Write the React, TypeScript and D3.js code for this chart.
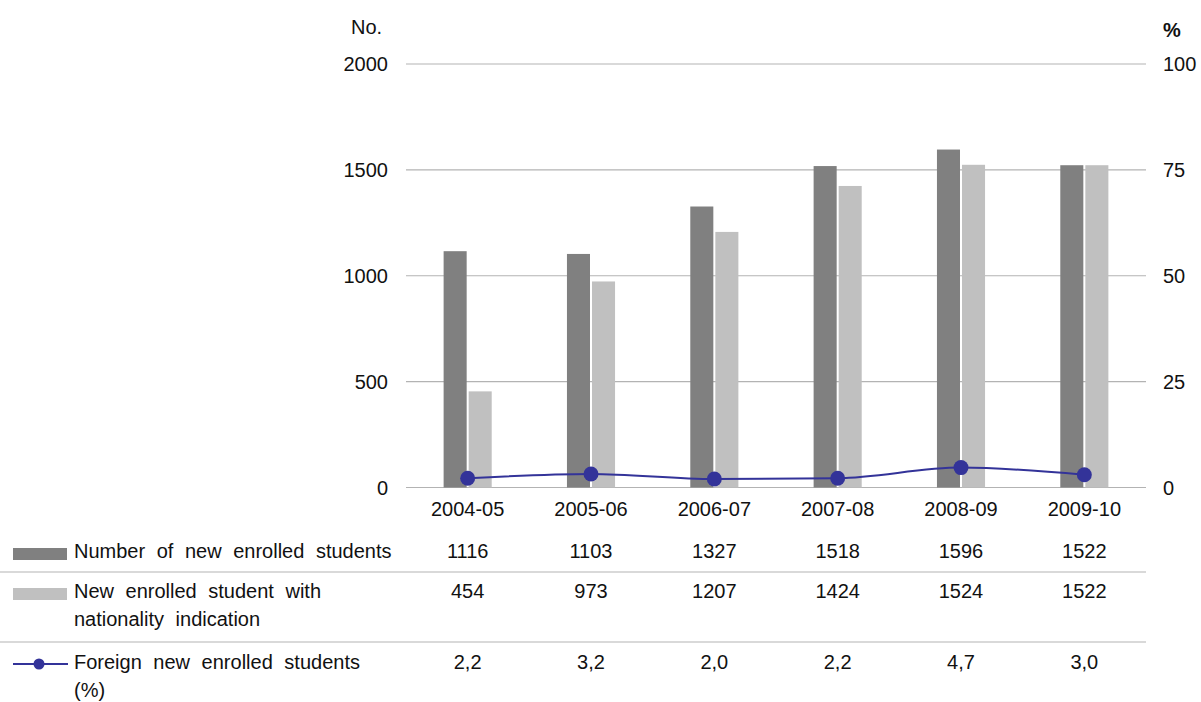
import React from "react";
import * as d3 from "d3";

const categories = ["2004-05", "2005-06", "2006-07", "2007-08", "2008-09", "2009-10"];
const enrolled = [1116, 1103, 1327, 1518, 1596, 1522];
const withNationality = [454, 973, 1207, 1424, 1524, 1522];
const foreignPct = [2.2, 3.2, 2.0, 2.2, 4.7, 3.0];
const leftTicks = [0, 500, 1000, 1500, 2000];
const rightTicks = [0, 25, 50, 75, 100];
const seriesNames = [
  ["Number of new enrolled students"],
  ["New enrolled student with", "nationality indication"],
  ["Foreign new enrolled students", "(%)"],
];
const pctLabels = foreignPct.map((v) => v.toFixed(1).replace(".", ","));

const W = 1201;
const H = 702;
const FONT = "'Liberation Sans', Arial, sans-serif";
const DARK = "#808080";
const LIGHT = "#c0c0c0";
const BLUE = "#333399";
const GRID = "#b3b3b3";

export default function App() {
  const x0 = d3.scaleBand<string>().domain(categories).range([406, 1146]).paddingInner(0.61).paddingOuter(0.305);
  const x1 = d3.scaleBand<string>().domain(["a", "b"]).range([0, x0.bandwidth()]).paddingInner(0.08);
  const yL = d3.scaleLinear().domain([0, 2000]).range([487.5, 64]);
  const yR = d3.scaleLinear().domain([0, 100]).range([487.5, 64]);
  const cx = (c: string) => (x0(c) as number) + x0.bandwidth() / 2;

  const line = d3
    .line<number>()
    .x((_, i) => cx(categories[i]))
    .y((d) => yR(d))
    .curve(d3.curveMonotoneX);

  const rowBase = [558, 598, 669];

  return (
    <div style={{ position: "absolute", left: 0, top: 0 }}>
      <svg width={W} height={H} style={{ display: "block", fontFamily: FONT }}>
        <rect width={W} height={H} fill="#fff" />
        {leftTicks.map((t) => (
          <g key={"g" + t}>
            <line x1={406} x2={1146} y1={yL(t)} y2={yL(t)} stroke={GRID} strokeWidth={1.2} />
            <text x={388} y={yL(t) + 7} textAnchor="end" fontSize={20} fill="#111">
              {t}
            </text>
          </g>
        ))}
        {rightTicks.map((t) => (
          <text key={"r" + t} x={1163} y={yR(t) + 7} fontSize={20} fill="#111">
            {t}
          </text>
        ))}
        <text x={351} y={34} fontSize={20} fill="#111">
          No.
        </text>
        <text x={1163} y={37} fontSize={20} fontWeight="bold" fill="#111">
          %
        </text>

        {categories.map((c, i) => (
          <g key={c}>
            <rect
              x={(x0(c) as number) + (x1("a") as number)}
              y={yL(enrolled[i])}
              width={x1.bandwidth()}
              height={yL(0) - yL(enrolled[i])}
              fill={DARK}
            />
            <rect
              x={(x0(c) as number) + (x1("b") as number)}
              y={yL(withNationality[i])}
              width={x1.bandwidth()}
              height={yL(0) - yL(withNationality[i])}
              fill={LIGHT}
            />
          </g>
        ))}

        <path d={line(foreignPct) as string} fill="none" stroke={BLUE} strokeWidth={2} />
        {foreignPct.map((v, i) => (
          <circle key={"m" + i} cx={cx(categories[i])} cy={yR(v)} r={7.5} fill={BLUE} />
        ))}

        {categories.map((c) => (
          <text key={"l" + c} x={cx(c)} y={516} textAnchor="middle" fontSize={20} fill="#111">
            {c}
          </text>
        ))}

        {/* data table */}
        <line x1={0} x2={1146} y1={572} y2={572} stroke={GRID} strokeWidth={1.2} />
        <line x1={0} x2={1146} y1={642} y2={642} stroke={GRID} strokeWidth={1.2} />

        <rect x={13} y={548} width={54} height={12} fill={DARK} />
        <rect x={13} y={588} width={54} height={12} fill={LIGHT} />
        <line x1={13} x2={68} y1={664} y2={664} stroke={BLUE} strokeWidth={2} />
        <circle cx={39} cy={664} r={5.5} fill={BLUE} />

        {seriesNames.map((lines, r) =>
          lines.map((t, k) => (
            <text
              key={"s" + r + k}
              x={74}
              y={rowBase[r] + k * 28}
              fontSize={20}
              fill="#111"
              style={{ wordSpacing: "6px" }}
            >
              {t}
            </text>
          ))
        )}

        {categories.map((c, i) => (
          <g key={"t" + c}>
            <text x={cx(c)} y={rowBase[0]} textAnchor="middle" fontSize={20} fill="#111">
              {enrolled[i]}
            </text>
            <text x={cx(c)} y={rowBase[1]} textAnchor="middle" fontSize={20} fill="#111">
              {withNationality[i]}
            </text>
            <text x={cx(c)} y={rowBase[2]} textAnchor="middle" fontSize={20} fill="#111">
              {pctLabels[i]}
            </text>
          </g>
        ))}
      </svg>
    </div>
  );
}
